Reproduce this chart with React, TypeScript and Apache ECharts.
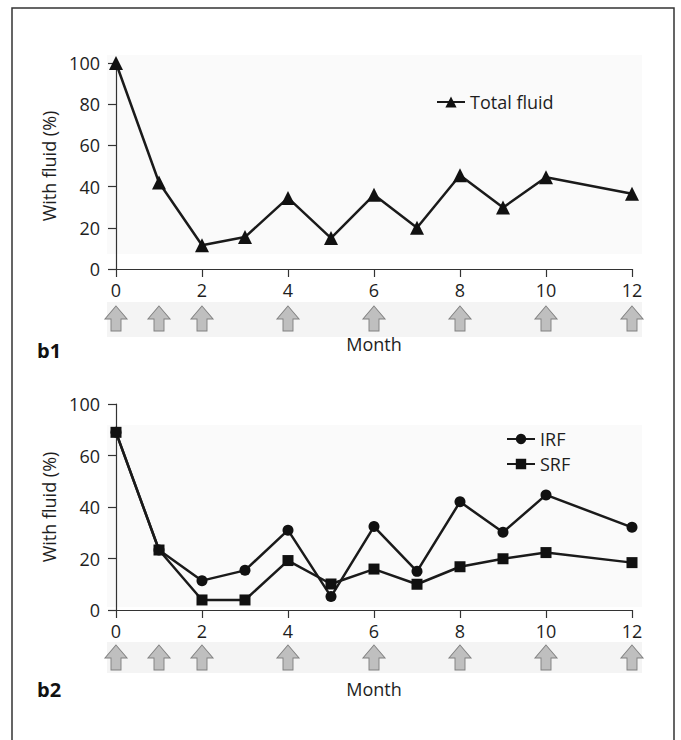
import React, { useEffect, useRef } from "react";
import * as echarts from "echarts";

const months = [0, 1, 2, 3, 4, 5, 6, 7, 8, 9, 10, 12];
const totalFluid = [100, 42, 11.5, 15.5, 34.5, 15, 36, 20, 45.5, 29.8, 44.5, 36.5];
const irf = [69, 23.3, 11.4, 15.4, 31, 5.2, 32.4, 15, 42, 30.2, 44.7, 32.1];
const srf = [69, 23.3, 3.9, 3.9, 19.2, 10.1, 15.9, 10, 16.8, 19.9, 22.3, 18.4];
const injectionMonths = [0, 1, 2, 4, 6, 8, 10, 12];
const xTicks = [0, 2, 4, 6, 8, 10, 12];

const FONT = "'Open Sans', 'Noto Sans', sans-serif";
const TXT = "#1e1e1e";
const AX = "#333";
const ARROW = "path://M11,0 L22,13 L16,13 L16,25 L6,25 L6,13 L0,13 Z";

export default function App() {
  const ref = useRef<HTMLDivElement>(null);
  useEffect(() => {
    if (!ref.current) return;
    const chart = echarts.init(ref.current, undefined, { renderer: "svg" });
    const pair = (ys: number[]) => months.map((m, i) => [m, ys[i]]);
    const xAxisMain = (gridIndex: number, name: string, nameGap: number) => ({
      type: "value",
      gridIndex,
      min: 0,
      max: 12,
      interval: 2,
      name,
      nameLocation: "middle",
      nameGap,
      nameTextStyle: { fontFamily: FONT, fontSize: 18, color: TXT },
      axisLine: { lineStyle: { color: AX, width: 1.2 } },
      axisTick: { show: true, length: 8, lineStyle: { color: AX, width: 1.2 } },
      axisLabel: { fontFamily: FONT, fontSize: 18, color: TXT, margin: 12, formatter: (v: number) => (xTicks.includes(v) ? String(v) : "") },
      splitLine: { show: false },
    });
    const yAxisMain = (gridIndex: number, max: number, fmt: (v: number) => string) => ({
      type: "value",
      gridIndex,
      min: 0,
      max,
      interval: 20,
      name: "With fluid (%)",
      nameLocation: "middle",
      nameGap: 56,
      nameTextStyle: { fontFamily: FONT, fontSize: 18, color: TXT },
      axisLine: { show: true, lineStyle: { color: AX, width: 1.2 } },
      axisTick: { show: true, length: 8, lineStyle: { color: AX, width: 1.2 } },
      axisLabel: { fontFamily: FONT, fontSize: 18, color: TXT, margin: 16, formatter: fmt },
      splitLine: { show: false },
    });
    const hiddenX = (gridIndex: number) => ({
      type: "value", gridIndex, min: 0, max: 12, show: false, splitLine: { show: false },
    });
    const hiddenY = (gridIndex: number) => ({
      type: "value", gridIndex, min: 0, max: 1, show: false, splitLine: { show: false },
    });
    const lineStyle = { color: "#1a1a1a", width: 2.5 };
    const arrowSeries = (idx: number) => ({
      type: "scatter",
      xAxisIndex: idx,
      yAxisIndex: idx,
      symbol: ARROW,
      symbolSize: [22, 25],
      data: injectionMonths.map((m) => [m, 0.5]),
      itemStyle: { color: "#bfbfbf", borderColor: "#808080", borderWidth: 1, opacity: 1 },
      silent: true,
      clip: false,
    });
    chart.setOption({
      animation: false,
      backgroundColor: "#ffffff",
      textStyle: { fontFamily: FONT },
      graphic: [
        { type: "rect", shape: { x: 12, y: 8, width: 662, height: 760 }, style: { fill: "none", stroke: "#333", lineWidth: 1.5 }, silent: true },
        { type: "rect", shape: { x: 107, y: 55, width: 535, height: 199 }, style: { fill: "#fafafa" }, z: -10, silent: true },
        { type: "rect", shape: { x: 107, y: 302, width: 535, height: 35 }, style: { fill: "#f4f4f4" }, z: -10, silent: true },
        { type: "rect", shape: { x: 107, y: 425, width: 535, height: 182 }, style: { fill: "#fafafa" }, z: -10, silent: true },
        { type: "rect", shape: { x: 107, y: 642, width: 535, height: 31 }, style: { fill: "#f4f4f4" }, z: -10, silent: true },
        { type: "text", left: 37, top: 340, style: { text: "b1", font: `bold 20px ${FONT}`, fill: "#111" } },
        { type: "text", left: 37, top: 679, style: { text: "b2", font: `bold 20px ${FONT}`, fill: "#111" } },
      ],
      legend: [
        {
          data: ["Total fluid"],
          left: 431,
          top: 88,
          itemWidth: 28,
          itemHeight: 14,
          textStyle: { fontFamily: FONT, fontSize: 18, color: TXT },
          selectedMode: false,
        },
        {
          data: ["IRF", "SRF"],
          orient: "vertical",
          left: 501,
          top: 425,
          itemWidth: 28,
          itemHeight: 13,
          itemGap: 7,
          textStyle: { fontFamily: FONT, fontSize: 18, color: TXT },
          selectedMode: false,
        },
      ],
      grid: [
        { left: 116, width: 516, top: 63, height: 206 },
        { left: 116, width: 516, top: 306, height: 25 },
        { left: 116, width: 516, top: 404, height: 206 },
        { left: 116, width: 516, top: 645, height: 25 },
      ],
      xAxis: [
        xAxisMain(0, "Month", 66),
        hiddenX(1),
        xAxisMain(2, "Month", 70),
        hiddenX(3),
      ],
      yAxis: [
        yAxisMain(0, 100, (v: number) => String(v)),
        hiddenY(1),
        yAxisMain(2, 80, (v: number) => (v === 80 ? "100" : String(v))),
        hiddenY(3),
      ],
      series: [
        {
          name: "Total fluid",
          type: "line",
          xAxisIndex: 0,
          yAxisIndex: 0,
          data: pair(totalFluid),
          symbol: "triangle",
          symbolSize: 14,
          showAllSymbol: true,
          lineStyle,
          itemStyle: { color: "#111" },
          clip: false,
        },
        arrowSeries(1),
        {
          name: "IRF",
          type: "line",
          xAxisIndex: 2,
          yAxisIndex: 2,
          data: pair(irf),
          symbol: "circle",
          symbolSize: 11,
          lineStyle,
          itemStyle: { color: "#111" },
          clip: false,
        },
        {
          name: "SRF",
          type: "line",
          xAxisIndex: 2,
          yAxisIndex: 2,
          data: pair(srf),
          symbol: "rect",
          symbolSize: 11,
          lineStyle,
          itemStyle: { color: "#111" },
          clip: false,
        },
        arrowSeries(3),
      ],
    });
    return () => chart.dispose();
  }, []);
  return <div ref={ref} style={{ position: "fixed", left: 0, top: 0, width: 681, height: 740 }} />;
}
